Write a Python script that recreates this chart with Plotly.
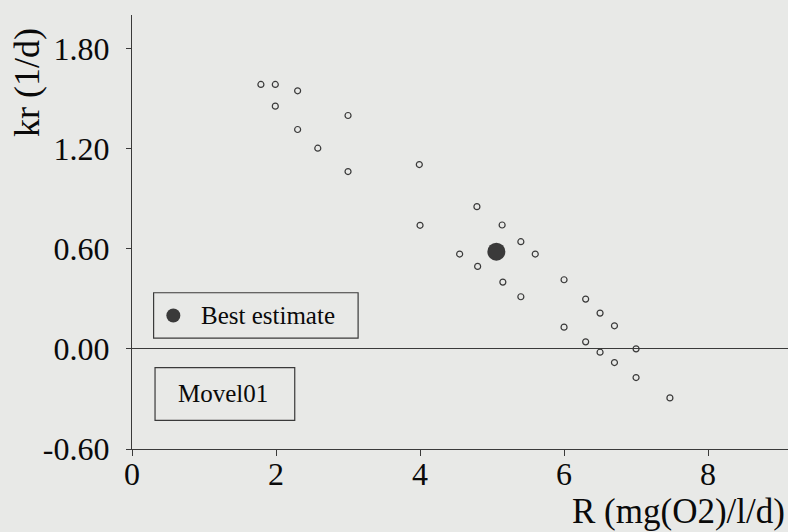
import plotly.graph_objects as go

# Data
movel_R = [1.79, 1.99, 1.99, 2.30, 2.30, 2.58, 3.00, 3.00, 3.99, 4.00,
           4.79, 5.14, 5.40, 4.55, 5.60, 4.80, 5.15, 5.40, 6.00, 6.30,
           6.50, 6.00, 6.70, 6.30, 6.50, 7.00, 6.70, 7.00, 7.47]
movel_kr = [1.584, 1.584, 1.454, 1.546, 1.314, 1.202, 1.398, 1.062, 1.104, 0.740,
            0.852, 0.742, 0.642, 0.568, 0.568, 0.494, 0.400, 0.312, 0.414, 0.298,
            0.214, 0.130, 0.138, 0.042, -0.020, 0.000, -0.082, -0.172, -0.294]
best_R = [5.06]
best_kr = [0.582]

x_ticks = [0, 2, 4, 6, 8]
y_ticks = [-0.6, 0.0, 0.6, 1.2, 1.8]
y_ticklabels = ["-0.60", "0.00", "0.60", "1.20", "1.80"]

BG = "#e8e9e7"
INK = "#3a3a3a"
TXT = "#0a0a0a"
FONT = "Liberation Serif"

fig = go.Figure()
fig.add_trace(go.Scatter(
    x=movel_R, y=movel_kr, mode="markers", name="Movel01",
    marker=dict(symbol="circle-open", size=6, color=INK, line=dict(width=1.2, color=INK)),
    showlegend=False))
fig.add_trace(go.Scatter(
    x=best_R, y=best_kr, mode="markers", name="Best estimate",
    marker=dict(symbol="circle", size=18, color=INK), showlegend=False))

# legend-like boxes
fig.add_shape(type="rect", xref="x", yref="y", x0=0.30, x1=3.14, y0=0.064, y1=0.336,
              line=dict(color=INK, width=1.2), fillcolor="rgba(0,0,0,0)")
fig.add_shape(type="rect", xref="x", yref="y", x0=0.32, x1=2.26, y0=-0.428, y1=-0.112,
              line=dict(color=INK, width=1.2), fillcolor="rgba(0,0,0,0)")
fig.add_trace(go.Scatter(x=[0.574], y=[0.20], mode="markers",
                         marker=dict(symbol="circle", size=14, color=INK),
                         showlegend=False, hoverinfo="skip"))
fig.add_annotation(x=0.93, y=0.20, xref="x", yref="y", text="Best estimate",
                   showarrow=False, xanchor="left", yanchor="middle",
                   font=dict(family=FONT, size=25, color=TXT))
fig.add_annotation(x=1.26, y=-0.27, xref="x", yref="y", text="Movel01",
                   showarrow=False, xanchor="center", yanchor="middle",
                   font=dict(family=FONT, size=25, color=TXT))

# axis titles
fig.add_annotation(x=787, y=511, xref="paper", yref="paper", text="R (mg(O2)/l/d)",
                   showarrow=False, xanchor="right", yanchor="middle",
                   font=dict(family=FONT, size=35, color=TXT))
fig.add_annotation(x=27, y=83, xref="paper", yref="paper", text="kr (1/d)",
                   textangle=-90, showarrow=False, xanchor="center", yanchor="middle",
                   font=dict(family=FONT, size=36, color=TXT))

W, H = 788, 532
L, R_, T, B = 132, 0, 15, 83
pw, ph = W - L - R_, H - T - B
# convert pixel annotations to paper coords
for a in fig.layout.annotations:
    if a.xref == "paper":
        a.x = (a.x - L) / pw
        a.y = (H - B - a.y) / ph

fig.update_layout(
    width=W, height=H,
    margin=dict(l=L, r=R_, t=T, b=B),
    paper_bgcolor=BG, plot_bgcolor=BG,
    font=dict(family=FONT, color=TXT),
    xaxis=dict(range=[0, 9.11], tickvals=x_ticks, ticktext=[str(v) for v in x_ticks],
               showgrid=False, zeroline=False, showline=True, linecolor=INK, linewidth=1.3,
               ticks="outside", ticklen=6, tickcolor=INK, tickwidth=1.3,
               ticklabelstandoff=-10,
               tickfont=dict(family=FONT, size=32, color=TXT)),
    yaxis=dict(range=[-0.6, 2.0], tickvals=y_ticks, ticktext=y_ticklabels,
               showgrid=False, zeroline=True, zerolinecolor=INK, zerolinewidth=1.3,
               showline=True, linecolor=INK, linewidth=1.3,
               ticks="outside", ticklen=5, tickcolor=INK, tickwidth=1.3,
               ticklabelstandoff=10,
               tickfont=dict(family=FONT, size=32, color=TXT)),
)

fig.write_html("out.html")
